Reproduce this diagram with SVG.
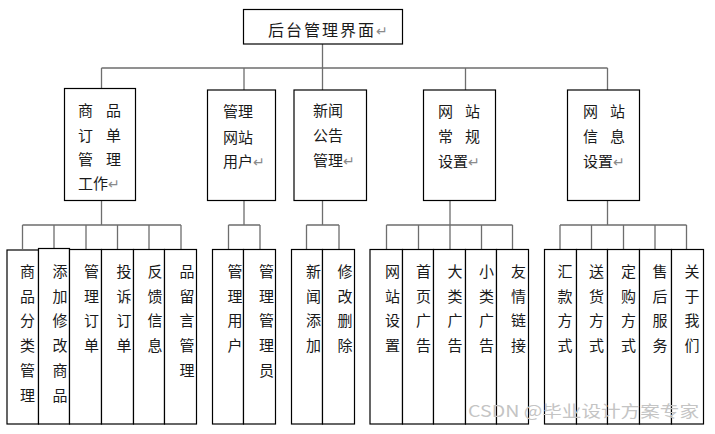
<svg xmlns="http://www.w3.org/2000/svg" width="715" height="434" viewBox="0 0 715 434">
<style>
.b{fill:#fff;stroke:#000;stroke-width:1.2}
.c{fill:none;stroke:#6e6e6e;stroke-width:1.3}
.t{font-family:"Noto Sans CJK SC","Noto Sans",sans-serif;font-size:15px;fill:#1a1a1a}
.v{font-family:"Noto Sans CJK SC","Noto Sans",sans-serif;font-size:15px;fill:#1a1a1a;text-anchor:middle}
.r{fill:#8a8a8a;font-size:14px}
.w{font-family:"Noto Sans CJK SC","Noto Sans",sans-serif;font-size:16px;fill:#c4c4c4}
</style>
<rect width="715" height="434" fill="#fff"/>
<g id="connectors">
<path class="c" d="M322.5 44V90M101.5 68H607.5M101.5 68V88.5M244 68V90M465.5 68V90M607.5 68V90"/>
<path class="c" d="M101.5 200V225M22.5 225H181M22.5 225V249M54 225V249M86 225V249M117.5 225V249M149 225V249M181 225V249"/>
<path class="c" d="M244 200V225M228.5 225H260M228.5 225V249M260 225V249"/>
<path class="c" d="M322.5 200V225M306.5 225H339M306.5 225V249M339 225V249"/>
<path class="c" d="M450 200V225M386.5 225H512.5M386.5 225V249M418.5 225V249M450 225V249M481.5 225V249M512.5 225V249"/>
<path class="c" d="M607.5 200V225M560 225H686.5M560 225V249M591.5 225V249M623.5 225V249M655 225V249M686.5 225V249"/>
</g>
<g id="root">
<rect class="b" x="243.5" y="9.5" width="159" height="34.5"/>
<text class="t" style="font-size:16px" x="268 286 304 322 340 358" y="36">后台管理界面</text>
<text class="t r" x="376" y="36">↵</text>
</g>
<g id="n1">
<rect class="b" x="64.5" y="88.5" width="71" height="112"/>
<text class="t" x="78 106" y="116">商品</text>
<text class="t" x="78 106" y="141">订单</text>
<text class="t" x="78 106" y="165">管理</text>
<text class="t" x="78 93" y="189">工作</text><text class="t r" x="108" y="189">↵</text>
</g>
<g id="n2">
<rect class="b" x="207.5" y="90" width="68" height="110.5"/>
<text class="t" x="223" y="117">管理</text>
<text class="t" x="223" y="143">网站</text>
<text class="t" x="223" y="167">用户</text><text class="t r" x="253" y="167">↵</text>
</g>
<g id="n3">
<rect class="b" x="294" y="90" width="72.5" height="110.5"/>
<text class="t" x="313" y="116">新闻</text>
<text class="t" x="313" y="141">公告</text>
<text class="t" x="313" y="166">管理</text><text class="t r" x="343" y="166">↵</text>
</g>
<g id="n4">
<rect class="b" x="423.5" y="90" width="72" height="110.5"/>
<text class="t" x="438 465" y="117">网站</text>
<text class="t" x="438 465" y="142">常规</text>
<text class="t" x="438 453" y="167">设置</text><text class="t r" x="468" y="167">↵</text>
</g>
<g id="n5">
<rect class="b" x="567.5" y="90" width="72" height="110.5"/>
<text class="t" x="583 610" y="117">网站</text>
<text class="t" x="583 610" y="142">信息</text>
<text class="t" x="583 598" y="167">设置</text><text class="t r" x="613" y="167">↵</text>
</g>
<g id="g1">
<rect class="b" x="7" y="250" width="31.5" height="174"/>
<rect class="b" x="38.5" y="248.5" width="31" height="175.5"/>
<rect class="b" x="69.5" y="249.5" width="32" height="174.5"/>
<rect class="b" x="101.5" y="249.5" width="32" height="174.5"/>
<rect class="b" x="133.5" y="249.5" width="31" height="174.5"/>
<rect class="b" x="164.5" y="249.5" width="32" height="174.5"/>
<text class="v" x="27.5" y="277">商<tspan x="27.5" dy="24.7">品</tspan><tspan x="27.5" dy="24.7">分</tspan><tspan x="27.5" dy="24.7">类</tspan><tspan x="27.5" dy="24.7">管</tspan><tspan x="27.5" dy="24.7">理</tspan></text>
<text class="v" x="60" y="277">添<tspan x="60" dy="24.7">加</tspan><tspan x="60" dy="24.7">修</tspan><tspan x="60" dy="24.7">改</tspan><tspan x="60" dy="24.7">商</tspan><tspan x="60" dy="24.7">品</tspan></text>
<text class="v" x="91.5" y="277">管<tspan x="91.5" dy="24.7">理</tspan><tspan x="91.5" dy="24.7">订</tspan><tspan x="91.5" dy="24.7">单</tspan></text>
<text class="v" x="124" y="277">投<tspan x="124" dy="24.7">诉</tspan><tspan x="124" dy="24.7">订</tspan><tspan x="124" dy="24.7">单</tspan></text>
<text class="v" x="155" y="277">反<tspan x="155" dy="24.7">馈</tspan><tspan x="155" dy="24.7">信</tspan><tspan x="155" dy="24.7">息</tspan></text>
<text class="v" x="187" y="277">品<tspan x="187" dy="24.7">留</tspan><tspan x="187" dy="24.7">言</tspan><tspan x="187" dy="24.7">管</tspan><tspan x="187" dy="24.7">理</tspan></text>
</g>
<g id="g2">
<rect class="b" x="212.5" y="249.5" width="31" height="174.5"/>
<rect class="b" x="243.5" y="249.5" width="32" height="174.5"/>
<text class="v" x="235" y="277">管<tspan x="235" dy="24.7">理</tspan><tspan x="235" dy="24.7">用</tspan><tspan x="235" dy="24.7">户</tspan></text>
<text class="v" x="266.5" y="277">管<tspan x="266.5" dy="24.7">理</tspan><tspan x="266.5" dy="24.7">管</tspan><tspan x="266.5" dy="24.7">理</tspan><tspan x="266.5" dy="24.7">员</tspan></text>
</g>
<g id="g3">
<rect class="b" x="291.5" y="249.5" width="31" height="174.5"/>
<rect class="b" x="322.5" y="249.5" width="32" height="174.5"/>
<text class="v" x="313.5" y="277">新<tspan x="313.5" dy="24.7">闻</tspan><tspan x="313.5" dy="24.7">添</tspan><tspan x="313.5" dy="24.7">加</tspan></text>
<text class="v" x="345" y="277">修<tspan x="345" dy="24.7">改</tspan><tspan x="345" dy="24.7">删</tspan><tspan x="345" dy="24.7">除</tspan></text>
</g>
<g id="g4">
<rect class="b" x="370" y="249.5" width="32.5" height="174.5"/>
<rect class="b" x="402.5" y="249.5" width="31" height="174.5"/>
<rect class="b" x="433.5" y="249.5" width="32" height="174.5"/>
<rect class="b" x="465.5" y="249.5" width="31" height="174.5"/>
<rect class="b" x="496.5" y="249.5" width="32" height="174.5"/>
<text class="v" x="392.5" y="277">网<tspan x="392.5" dy="24.7">站</tspan><tspan x="392.5" dy="24.7">设</tspan><tspan x="392.5" dy="24.7">置</tspan></text>
<text class="v" x="423.5" y="277">首<tspan x="423.5" dy="24.7">页</tspan><tspan x="423.5" dy="24.7">广</tspan><tspan x="423.5" dy="24.7">告</tspan></text>
<text class="v" x="455" y="277">大<tspan x="455" dy="24.7">类</tspan><tspan x="455" dy="24.7">广</tspan><tspan x="455" dy="24.7">告</tspan></text>
<text class="v" x="486.5" y="277">小<tspan x="486.5" dy="24.7">类</tspan><tspan x="486.5" dy="24.7">广</tspan><tspan x="486.5" dy="24.7">告</tspan></text>
<text class="v" x="518.5" y="277">友<tspan x="518.5" dy="24.7">情</tspan><tspan x="518.5" dy="24.7">链</tspan><tspan x="518.5" dy="24.7">接</tspan></text>
</g>
<g id="g5">
<rect class="b" x="544.5" y="249.5" width="32" height="174.5"/>
<rect class="b" x="576.5" y="249.5" width="31" height="174.5"/>
<rect class="b" x="607.5" y="249.5" width="32" height="174.5"/>
<rect class="b" x="639.5" y="249.5" width="32" height="174.5"/>
<rect class="b" x="671.5" y="249.5" width="32" height="174.5"/>
<text class="v" x="565" y="277">汇<tspan x="565" dy="24.7">款</tspan><tspan x="565" dy="24.7">方</tspan><tspan x="565" dy="24.7">式</tspan></text>
<text class="v" x="596.5" y="277">送<tspan x="596.5" dy="24.7">货</tspan><tspan x="596.5" dy="24.7">方</tspan><tspan x="596.5" dy="24.7">式</tspan></text>
<text class="v" x="628.5" y="277">定<tspan x="628.5" dy="24.7">购</tspan><tspan x="628.5" dy="24.7">方</tspan><tspan x="628.5" dy="24.7">式</tspan></text>
<text class="v" x="660" y="277">售<tspan x="660" dy="24.7">后</tspan><tspan x="660" dy="24.7">服</tspan><tspan x="660" dy="24.7">务</tspan></text>
<text class="v" x="692" y="277">关<tspan x="692" dy="24.7">于</tspan><tspan x="692" dy="24.7">我</tspan><tspan x="692" dy="24.7">们</tspan></text>
</g>
<text class="w" x="468" y="417" textLength="231" lengthAdjust="spacingAndGlyphs">CSDN @毕业设计方案专家</text>
</svg>
